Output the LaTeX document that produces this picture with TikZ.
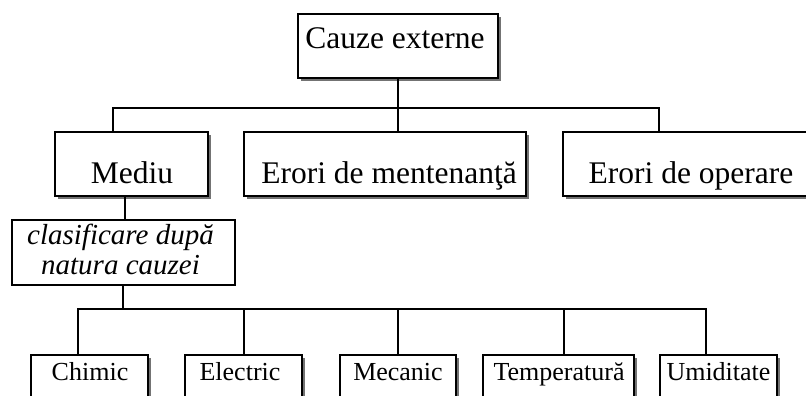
\documentclass[tikz,border=0pt]{standalone}
\usepackage{fontspec}
\setmainfont{Liberation Serif}
\usetikzlibrary{shadows}
\begin{document}
\begin{tikzpicture}[x=1pt,y=-1pt,
  wire/.style={line width=1.6pt},
  box/.style={draw,line width=1.6pt,fill=white,inner sep=0pt,outer sep=0pt},
  shbox/.style={box,drop shadow={shadow xshift=3pt,shadow yshift=-3pt,fill=black!55,opacity=1}},
  big/.style={font=\fontsize{31.5}{33}\selectfont,inner sep=0pt,anchor=base},
  mid/.style={font=\fontsize{29}{30}\selectfont\itshape,inner sep=0pt,anchor=base},
  small/.style={font=\fontsize{26}{27}\selectfont,inner sep=0pt,anchor=base}]
\useasboundingbox (0,0) rectangle (806,396);
\clip (0,0) rectangle (806,396);

% top level
\node[shbox,minimum width=200pt,minimum height=64pt] (top) at (398,46) {};
\node[big] (ttop) at (395,49) {Cauze externe};

% second level
\node[shbox,minimum width=153pt,minimum height=64pt] (mediu) at (131.5,164) {};
\node[big] (tmediu) at (132,183) {Mediu};
\node[shbox,minimum width=282pt,minimum height=64pt] (ment) at (385,164) {};
\node[big] (tment) at (389,183) {Erori de mentenanţă};
\node[shbox,minimum width=256pt,minimum height=64pt] (oper) at (691,164) {};
\node[big] (toper) at (691,183) {Erori de operare};

% classification box
\node[box,minimum width=223pt,minimum height=65pt] (clas) at (123.5,252.5) {};
\node[mid] (tclas1) at (120.5,244) {clasificare după};
\node[mid] (tclas2) at (120.5,274) {natura cauzei};

% third level
\node[shbox,minimum width=117pt,minimum height=66pt] (chim) at (89.5,388) {};
\node[small] (tchim) at (90,380) {Chimic};
\node[shbox,minimum width=117pt,minimum height=66pt] (elec) at (243.5,388) {};
\node[small] (telec) at (240,380) {Electric};
\node[shbox,minimum width=116pt,minimum height=66pt] (meca) at (398,388) {};
\node[small] (tmeca) at (398,380) {Mecanic};
\node[shbox,minimum width=151pt,minimum height=66pt] (temp) at (558.5,388) {};
\node[small] (ttemp) at (559,380) {Temperatură};
\node[shbox,minimum width=117pt,minimum height=66pt] (umid) at (718.5,388) {};
\node[small] (tumid) at (718.5,380) {Umiditate};

% bus coordinates
\coordinate (busA) at (398,108);
\coordinate (a1) at (113,108);
\coordinate (a3) at (659,108);
\coordinate (m1) at (125,0);
\coordinate (busB) at (123,309);
\coordinate (b1) at (78,309);
\coordinate (b2) at (244,309);
\coordinate (b3) at (398,309);
\coordinate (b4) at (564,309);
\coordinate (b5) at (706,309);

% connectors, first level
\draw[wire] (top.south) -- (busA);
\draw[wire] (a1 |- mediu.north) -- (a1) -- (a3) -- (a3 |- oper.north);
\draw[wire] (busA) -- (busA |- ment.north);

% connectors, classification
\draw[wire] (m1 |- mediu.south) -- (m1 |- clas.north);
\draw[wire] (busB |- clas.south) -- (busB);
\draw[wire] (b1 |- chim.north) -- (b1) -- (b5) -- (b5 |- umid.north);
\draw[wire] (b2) -- (b2 |- elec.north);
\draw[wire] (b3) -- (b3 |- meca.north);
\draw[wire] (b4) -- (b4 |- temp.north);
\end{tikzpicture}
\end{document}
